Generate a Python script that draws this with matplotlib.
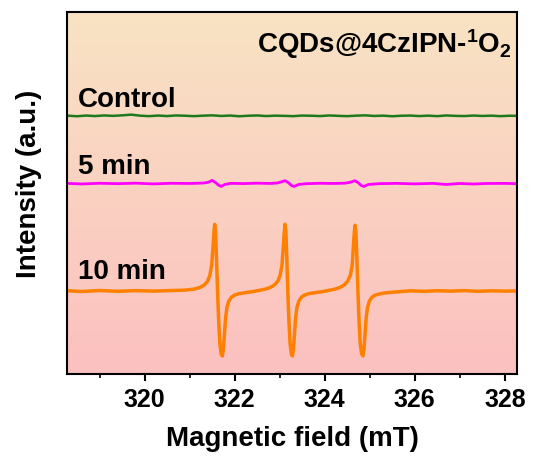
import numpy as np
import matplotlib
matplotlib.use("Agg")
import matplotlib.pyplot as plt
from matplotlib.ticker import MultipleLocator

plt.rcParams['font.family'] = ['Liberation Sans', 'DejaVu Sans']
plt.rcParams['font.weight'] = 'bold'
plt.rcParams['mathtext.fontset'] = 'custom'
plt.rcParams['mathtext.rm'] = 'Liberation Sans:bold'
plt.rcParams['mathtext.bf'] = 'Liberation Sans:bold'
plt.rcParams['mathtext.it'] = 'Liberation Sans:bold'

# --- data (field in mT, intensity in arbitrary units, baseline = 0) ---
field_control = [318.28, 318.5, 318.7, 318.9, 319.1, 319.3, 319.5, 319.7, 319.9, 320.1,
                 320.3, 320.5, 320.7, 320.9, 321.1, 321.3, 321.5, 321.7, 321.9, 322.1,
                 322.3, 322.5, 322.7, 322.9, 323.1, 323.3, 323.5, 323.7, 323.9, 324.1,
                 324.3, 324.5, 324.7, 324.9, 325.1, 325.3, 325.5, 325.7, 325.9, 326.1,
                 326.3, 326.5, 326.7, 326.9, 327.1, 327.3, 327.5, 327.7, 327.9, 328.1, 328.27]
int_control = [0.2, -0.4, 0.3, -0.2, 0.4, 0.0, 0.5, 1.2, 0.2, -0.3,
               0.3, -0.2, 0.4, 0.1, -0.3, 0.2, 0.5, -0.1, 0.3, -0.4,
               0.1, 0.4, -0.2, 0.2, 0.0, -0.3, 0.3, 0.1, -0.2, 0.4,
               0.0, -0.3, 0.2, 0.5, -0.1, 0.2, -0.4, 0.1, 0.3, -0.2,
               0.2, -0.3, 0.4, 0.0, -0.2, 0.3, -0.1, 0.2, -0.3, 0.1, 0.0]

field_5min = [318.28, 318.6, 319.0, 319.4, 319.8, 320.2, 320.6, 321.0, 321.3, 321.42,
              321.50, 321.58, 321.64, 321.70, 321.78, 321.9, 322.2, 322.5, 322.8, 322.95,
              323.05, 323.12, 323.2, 323.26, 323.32, 323.42, 323.6, 323.9, 324.2, 324.45,
              324.58, 324.67, 324.75, 324.81, 324.87, 324.97, 325.2, 325.6, 326.0, 326.4,
              326.7, 327.0, 327.3, 327.6, 328.0, 328.27]
int_5min = [0.3, -0.3, 0.4, 0.0, 0.5, -0.2, 0.4, 0.2, 0.6, 1.5,
            3.3, 1.0, -1.5, -2.7, -0.8, 0.3, 0.1, 0.5, 0.2, 0.7,
            2.0, 3.0, 0.8, -1.8, -2.8, -0.8, 0.0, 0.4, 0.2, 0.5,
            1.5, 3.0, 0.8, -1.8, -2.8, -0.8, 0.0, 0.3, -0.2, 0.3,
            -0.8, 0.2, -0.3, 0.2, 0.3, 0.0]

field_10min = [318.28, 318.6, 319.0, 319.4, 319.8, 320.2, 320.6, 320.9, 321.1, 321.22,
               321.32, 321.40, 321.45, 321.49, 321.515, 321.538, 321.556, 321.575, 321.595, 321.62,
               321.645, 321.67, 321.70, 321.727, 321.75, 321.775, 321.80, 321.83, 321.87, 321.93,
               322.0, 322.1, 322.25, 322.4, 322.55, 322.68, 322.78, 322.88, 322.96, 323.01,
               323.05, 323.077, 323.10, 323.118, 323.137, 323.157, 323.18, 323.205, 323.23, 323.258,
               323.282, 323.305, 323.33, 323.355, 323.385, 323.425, 323.485, 323.55, 323.65, 323.8,
               323.95, 324.1, 324.23, 324.33, 324.43, 324.51, 324.57, 324.61, 324.632, 324.655,
               324.673, 324.692, 324.712, 324.737, 324.762, 324.787, 324.82, 324.849, 324.872, 324.897,
               324.922, 324.952, 324.992, 325.05, 325.12, 325.25, 325.4, 325.6, 325.9, 326.2,
               326.5, 326.8, 327.1, 327.4, 327.7, 328.0, 328.27]
int_10min = [0.4, -0.4, 0.6, -0.2, 0.5, 0.0, 0.6, 1.0, 2.0, 3.5,
             6, 10, 16, 26, 42, 58, 67, 60, 35, 0,
             -30, -52, -63, -65, -58, -42, -26, -16, -10, -6,
             -4, -2.5, -1.5, -0.5, 0.8, 2.0, 3.5, 6, 10, 16,
             26, 42, 58, 67, 60, 35, 0, -30, -52, -63,
             -65, -58, -42, -26, -16, -10, -6, -4, -2.5, -1.5,
             -0.5, 0.8, 2.0, 3.5, 6, 10, 16, 26, 42, 58,
             66, 60, 35, 0, -30, -52, -63, -65, -58, -42,
             -26, -16, -10, -6, -4, -2.5, -1.5, -0.8, 0.3, -0.2,
             0.4, 0.0, 0.5, -0.2, 0.3, 0.0, 0.2]

series = [
    ("Control", field_control, int_control, "#1C7A1C", 1.8),
    ("5 min", field_5min, int_5min, "#FF00FF", 2.0),
    ("10 min", field_10min, int_10min, "#FF7F00", 2.5),
]
offsets = {"Control": 259, "5 min": 191, "10 min": 83.3}
label_y = {"Control": 268, "5 min": 200.7, "10 min": 95}

fig = plt.figure(figsize=(5.33, 4.66), dpi=100)
ax = fig.add_axes([0.126, 0.197, 0.844, 0.777])

xmin, xmax, ymin, ymax = 318.28, 328.27, 0, 363
# gradient background
grad = np.linspace(0, 1, 256).reshape(-1, 1)
top = np.array([248, 227, 195]) / 255
bot = np.array([252, 192, 192]) / 255
img = top[None, None, :] * (1 - grad[:, :, None]) + bot[None, None, :] * grad[:, :, None]
ax.imshow(img, extent=[xmin, xmax, ymin, ymax], aspect='auto', origin='upper', zorder=0)

for name, fx, fy, col, lw in series:
    ax.plot(fx, np.array(fy) + offsets[name], color=col, lw=lw, zorder=2)
    ax.text(318.52, label_y[name], name, fontsize=20, fontweight='bold',
            ha='left', va='baseline', zorder=3)

ax.text(0.988, 0.887, r'CQDs@4CzIPN-$^{1}$O$_{2}$', transform=ax.transAxes,
        fontsize=20, fontweight='bold', ha='right', va='baseline')

ax.set_xlim(xmin, xmax)
ax.set_ylim(ymin, ymax)
ax.xaxis.set_major_locator(MultipleLocator(2))
ax.xaxis.set_minor_locator(MultipleLocator(1))
ax.set_yticks([])
ax.tick_params(axis='x', which='major', direction='out', length=5, width=1.5,
               labelsize=18, pad=5)
ax.tick_params(axis='x', which='minor', direction='out', length=3, width=1.2)
for sp in ax.spines.values():
    sp.set_linewidth(1.5)

ax.set_xlabel("Magnetic field (mT)", fontsize=20, fontweight='bold', labelpad=10)
ax.set_ylabel("Intensity (a.u.)", fontsize=20, fontweight='bold')
ax.yaxis.set_label_coords(-0.055, 0.526)

fig.savefig("out.png", dpi=100)
plt.close(fig)
